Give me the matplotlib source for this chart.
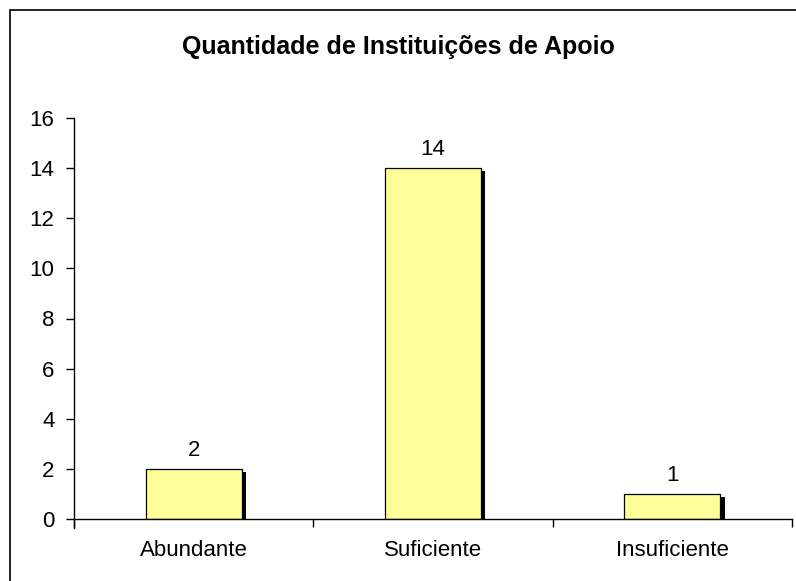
import matplotlib
matplotlib.use("Agg")
import matplotlib.pyplot as plt
from matplotlib.patches import Rectangle
from matplotlib import transforms

categories = ["Abundante", "Suficiente", "Insuficiente"]
values = [2, 14, 1]
yticks = [0, 2, 4, 6, 8, 10, 12, 14, 16]
title = "Quantidade de Instituições de Apoio"

plt.rcParams['font.family'] = ['Liberation Sans', 'DejaVu Sans']

W, H = 796, 581
fig = plt.figure(figsize=(W / 100, H / 100), dpi=100)

# outer frame (top and left visible, rest cut off)
fig.add_artist(Rectangle((10 / W, -0.05), 1.2, (H - 10) / H + 0.05, transform=fig.transFigure,
                         fill=False, edgecolor='black', linewidth=1.2))

x0, x1 = 74, 792
y0, y1 = 519, 118
ax = fig.add_axes([x0 / W, (H - y0) / H, (x1 - x0) / W, (y0 - y1) / H])

xs = list(range(len(categories)))
bw = 0.4
# shadows
shadow = transforms.offset_copy(ax.transData, fig=fig, x=4.5, y=-3, units='dots')
ax.bar(xs, values, width=bw, color='black', edgecolor='none', transform=shadow, zorder=1)
bars = ax.bar(xs, values, width=bw, color='#FFFF99', edgecolor='black', linewidth=0.9, zorder=2)
for x, v in zip(xs, values):
    ax.annotate(str(v), (x, v), xytext=(0, 6), textcoords='offset points',
                ha='center', va='bottom', fontsize=16)

ax.set_xlim(-0.5, 2.5)
ax.set_ylim(0, 16)
ax.set_yticks(yticks)
ax.set_yticklabels([str(t) for t in yticks], fontsize=16)
ax.set_xticks(xs)
ax.set_xticklabels(categories, fontsize=16)
ax.tick_params(axis='x', length=0, pad=15)
ax.set_xticks([-0.5, 0.5, 1.5, 2.5], minor=True)
ax.tick_params(axis='x', which='minor', length=6, width=1.0, direction='out')
ax.tick_params(axis='y', length=6, width=1.0, direction='out', pad=8)

ax.spines['top'].set_visible(False)
ax.spines['right'].set_visible(False)
ax.spines['left'].set_linewidth(1.0)
ax.spines['bottom'].set_linewidth(1.0)
ax.spines['left'].set_bounds(-0.35, 16)
ax.patch.set_alpha(0)

fig.text(398 / W, 1 - 47 / H, title, ha='center', va='center', fontsize=18, fontweight='bold')

fig.savefig("out.png", dpi=100)
